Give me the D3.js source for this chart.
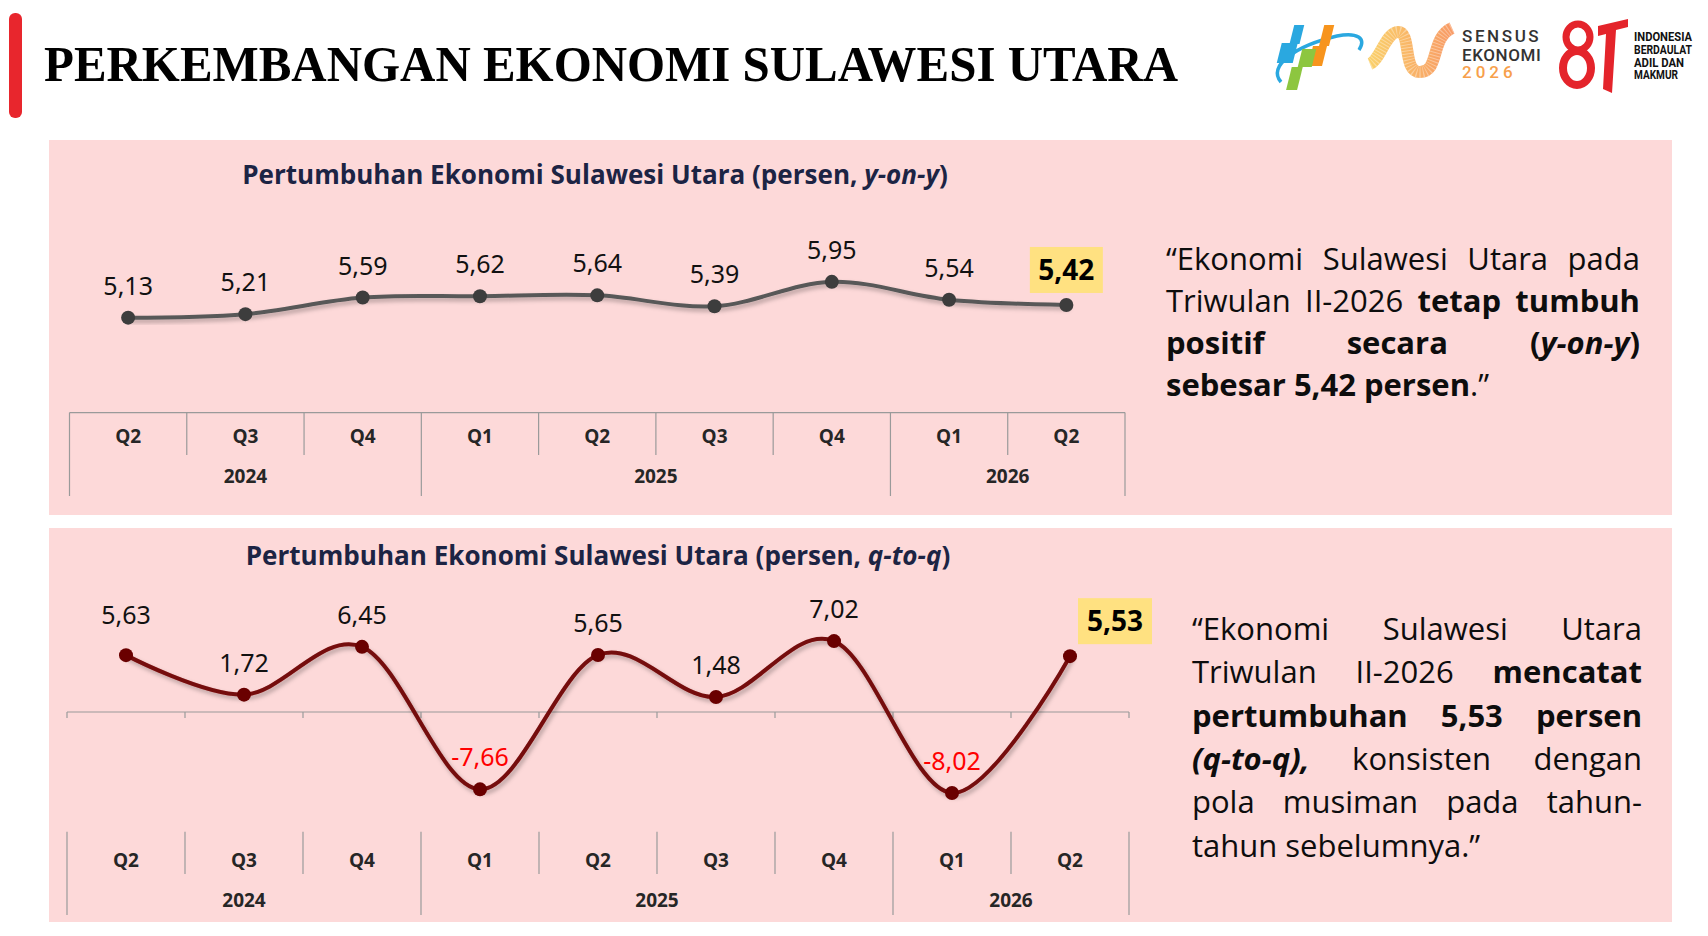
<!DOCTYPE html>
<html lang="id">
<head>
<meta charset="utf-8">
<title>Perkembangan Ekonomi Sulawesi Utara</title>
<script src="https://cdn.jsdelivr.net/npm/d3@7"></script>
<style>
  html, body { margin: 0; padding: 0; background: #fff; }
  svg { display: block; }
  .panel { fill: #fdd9d9; }
  .chart-title { font-family: "Open Sans", "Noto Sans", sans-serif; font-weight: 700; font-size: 23px; fill: #1c2444; }
  .value { font-family: "Noto Sans", Roboto, sans-serif; font-size: 25px; fill: #111; }
  .value.neg { fill: #ff0000; }
  .value.hl { font-weight: 700; font-size: 28px; fill: #000; }
  .cat text { font-family: "Open Sans", "Noto Sans", sans-serif; font-weight: 700; font-size: 19px; fill: #262626; }
  .grid-line { stroke: #9a9a9a; stroke-width: 1.2; }
  .note { font-family: "Open Sans", "Noto Sans", sans-serif; font-size: 31px; fill: #0d0d0d; }
</style>
</head>
<body>
<svg id="page" width="1708" height="936"></svg>
<script>
(function () {
  "use strict";

  // ---- data ----
  const quarterLabels = ["Q2", "Q3", "Q4", "Q1", "Q2", "Q3", "Q4", "Q1", "Q2"];
  const yearLabels = ["2024", "2025", "2026"];
  const yearSpans = [3, 4, 2];
  const yoyValues = [5.13, 5.21, 5.59, 5.62, 5.64, 5.39, 5.95, 5.54, 5.42];
  const qtqValues = [5.63, 1.72, 6.45, -7.66, 5.65, 1.48, 7.02, -8.02, 5.53];
  const yoyDomain = [3, 7];
  const qtqDomain = [-10, 10];

  const topNote = [
    [["", "“Ekonomi Sulawesi Utara pada"]],
    [["", "Triwulan II-2026 "], ["b", "tetap tumbuh"]],
    [["b", "positif secara ("], ["bi", "y-on-y"], ["b", ")"]],
    [["b", "sebesar 5,42 persen"], ["", ".”"]]
  ];
  const bottomNote = [
    [["", "“Ekonomi Sulawesi Utara"]],
    [["", "Triwulan II-2026 "], ["b", "mencatat"]],
    [["b", "pertumbuhan 5,53 persen"]],
    [["bi", "(q-to-q),"], ["", " konsisten dengan"]],
    [["", "pola musiman pada tahun-"]],
    [["", "tahun sebelumnya.”"]]
  ];

  const keys = quarterLabels.map((q, i) => i + "-" + q);
  const idLocale = d3.formatLocale({ decimal: ",", thousands: ".", grouping: [3], currency: ["Rp", ""], minus: "-" });
  const fmt = idLocale.format(".2f");

  const svg = d3.select("#page");
  const defs = svg.append("defs");
  const shadow = defs.append("filter").attr("id", "shadow")
    .attr("x", "-5%").attr("y", "-20%").attr("width", "110%").attr("height", "140%");
  shadow.append("feDropShadow")
    .attr("dx", 2).attr("dy", 3).attr("stdDeviation", 2)
    .attr("flood-color", "#000").attr("flood-opacity", 0.28);

  // ---- header ----
  svg.append("rect")
    .attr("x", 9).attr("y", 13).attr("width", 13).attr("height", 105)
    .attr("rx", 6).attr("fill", "#e8262d");

  svg.append("text")
    .attr("x", 44).attr("y", 81)
    .attr("textLength", 1134).attr("lengthAdjust", "spacingAndGlyphs")
    .style("font-family", "'Liberation Serif', 'Times New Roman', serif")
    .style("font-weight", 700).style("font-size", "50px").style("fill", "#000")
    .text("PERKEMBANGAN EKONOMI SULAWESI UTARA");

  drawLogos();

  // ---- panels ----
  svg.append("rect").attr("class", "panel").attr("x", 49).attr("y", 140).attr("width", 1623).attr("height", 375);
  svg.append("rect").attr("class", "panel").attr("x", 49).attr("y", 528).attr("width", 1623).attr("height", 394);

  // ---- top chart (y-on-y) ----
  const xTop = d3.scaleBand().domain(keys).range([69.5, 1125]);
  const yTop = d3.scaleLinear().domain(yoyDomain).range([410.6, 236]);

  chartTitle(595, 184, "y-on-y", 706);
  categoryAxis(xTop, 412.6, { topLine: true, shortEnd: 455, fullEnd: 496, qY: 436, yY: 476.5 });
  drawSeries({
    values: yoyValues, x: xTop, y: yTop,
    line: "#595959", marker: "#3d3d3d",
    labelOffset: [0, -32], hlOffset: [0, -35], hlSize: [73, 46],
    labelDy: {}
  });

  // ---- bottom chart (q-to-q) ----
  const xBot = d3.scaleBand().domain(keys).range([67, 1129]);
  const yBot = d3.scaleLinear().domain(qtqDomain).range([813, 611]);

  chartTitle(598, 565, "q-to-q", 705);
  const zeroY = yBot(0);
  svg.append("line").attr("class", "grid-line")
    .attr("x1", xBot.range()[0]).attr("x2", xBot.range()[1])
    .attr("y1", zeroY).attr("y2", zeroY);
  svg.append("g").selectAll("line")
    .data(d3.range(keys.length + 1))
    .join("line").attr("class", "grid-line")
    .attr("x1", i => xBot.range()[0] + i * xBot.step())
    .attr("x2", i => xBot.range()[0] + i * xBot.step())
    .attr("y1", zeroY).attr("y2", zeroY + 6);
  categoryAxis(xBot, 831.7, { topLine: false, shortEnd: 874, fullEnd: 915, qY: 860, yY: 900 });
  drawSeries({
    values: qtqValues, x: xBot, y: yBot,
    line: "#750909", marker: "#6a0000",
    labelOffset: [0, -32], hlOffset: [45, -35], hlSize: [74, 46],
    labelDy: { 0: -8 }
  });

  // ---- notes ----
  paragraph(topNote, 1166, 1640, 270, 42);
  paragraph(bottomNote, 1192, 1642, 640, 43.3);

  function chartTitle(cx, y, italicPart, width) {
    const t = svg.append("text").attr("class", "chart-title")
      .attr("x", cx).attr("y", y).attr("text-anchor", "middle");
    t.append("tspan").text("Pertumbuhan Ekonomi Sulawesi Utara (persen, ");
    t.append("tspan").style("font-style", "italic").text(italicPart);
    t.append("tspan").text(")");
    const w = t.node().getComputedTextLength();
    if (Math.abs(w - width) > 4) {
      t.style("font-size", (23 * width / w).toFixed(2) + "px");
    }
  }

  function categoryAxis(x, top, o) {
    const g = svg.append("g").attr("class", "cat");
    const x0 = x.range()[0];
    const step = x.step();
    const boundaries = new Set([0]);
    let acc = 0;
    yearSpans.forEach(n => { acc += n; boundaries.add(acc); });

    if (o.topLine) {
      g.append("line").attr("class", "grid-line")
        .attr("x1", x0).attr("x2", x.range()[1]).attr("y1", top).attr("y2", top);
    }
    g.selectAll("line.div")
      .data(d3.range(keys.length + 1))
      .join("line").attr("class", "grid-line div")
      .attr("x1", i => x0 + i * step).attr("x2", i => x0 + i * step)
      .attr("y1", top)
      .attr("y2", i => boundaries.has(i) ? o.fullEnd : o.shortEnd);

    const axis = d3.axisBottom(x).tickSize(0).tickFormat(k => k.split("-")[1]);
    const ag = g.append("g").attr("transform", `translate(0,${o.qY})`).call(axis);
    ag.select(".domain").remove();
    ag.selectAll("text").attr("y", 0).attr("dy", "0.35em");
    ag.attr("font-family", null).attr("font-size", null);

    let start = 0;
    yearLabels.forEach((yl, i) => {
      const n = yearSpans[i];
      const cx = x0 + (start + n / 2) * step;
      g.append("text").attr("x", cx).attr("y", o.yY).attr("dy", "0.35em")
        .attr("text-anchor", "middle").text(yl);
      start += n;
    });
  }

  function drawSeries(s) {
    const pts = s.values.map((v, i) => ({ v, i, px: s.x(keys[i]) + s.x.bandwidth() / 2, py: s.y(v) }));
    const line = d3.line().x(d => d.px).y(d => d.py).curve(d3.curveCardinal.tension(0));
    const g = svg.append("g");

    g.append("path").datum(pts)
      .attr("d", line)
      .attr("fill", "none")
      .attr("stroke", s.line)
      .attr("stroke-width", 4)
      .attr("stroke-linecap", "round")
      .attr("filter", "url(#shadow)");

    g.selectAll("circle").data(pts).join("circle")
      .attr("cx", d => d.px).attr("cy", d => d.py).attr("r", 7)
      .attr("fill", s.marker);

    const last = pts.length - 1;
    g.selectAll("text.value").data(pts.filter(d => d.i !== last)).join("text")
      .attr("class", d => "value" + (d.v < 0 ? " neg" : ""))
      .attr("x", d => d.px + s.labelOffset[0])
      .attr("y", d => d.py + s.labelOffset[1] + (s.labelDy[d.i] || 0))
      .attr("dy", "0.36em")
      .attr("text-anchor", "middle")
      .text(d => fmt(d.v));

    const h = pts[last];
    const cx = h.px + s.hlOffset[0];
    const cy = h.py + s.hlOffset[1];
    g.append("rect")
      .attr("x", cx - s.hlSize[0] / 2).attr("y", cy - s.hlSize[1] / 2)
      .attr("width", s.hlSize[0]).attr("height", s.hlSize[1])
      .attr("fill", "#ffe181");
    g.append("text").attr("class", "value hl")
      .attr("x", cx).attr("y", cy).attr("dy", "0.36em")
      .attr("text-anchor", "middle").text(fmt(h.v));
  }

  function toWords(line) {
    const words = [[]];
    line.forEach(([st, txt]) => {
      txt.split(" ").forEach((part, i) => {
        if (i > 0) words.push([]);
        if (part) words[words.length - 1].push([st, part]);
      });
    });
    return words.filter(w => w.length);
  }

  function paragraph(lines, x0, x1, y0, lh) {
    const g = svg.append("g");
    lines.forEach((line, li) => {
      const y = y0 + li * lh;
      const justify = li < lines.length - 1;
      const words = toWords(line).map(word => {
        const t = g.append("text").attr("class", "note").attr("y", y);
        word.forEach(([st, txt]) => {
          t.append("tspan").text(txt)
            .style("font-weight", st.includes("b") ? 700 : 400)
            .style("font-style", st.includes("i") ? "italic" : "normal");
        });
        return { t, w: t.node().getComputedTextLength() };
      });
      const total = d3.sum(words, d => d.w);
      const gap = justify && words.length > 1 ? (x1 - x0 - total) / (words.length - 1) : 8;
      let cx = x0;
      words.forEach(d => { d.t.attr("x", cx); cx += d.w + gap; });
    });
  }

  function drawLogos() {
    const lg = svg.append("g");

    // statistics office mark
    const bps = lg.append("g").attr("transform", "translate(1275,22)");
    bps.append("path")
      .attr("d", "M6,60 C-8,44 20,24 62,14 C82,10 92,16 84,28")
      .attr("fill", "none").attr("stroke", "#2aa8e0").attr("stroke-width", 3.5);
    const blocks = bps.append("g").attr("transform", "skewX(-14)");
    [
      ["#2aa8e0", 20, 3, 10, 19], ["#2aa8e0", 12, 21, 16, 20],
      ["#f7941d", 50, 3, 10, 21], ["#f7941d", 44, 24, 14, 20],
      ["#8dc63f", 34, 27, 14, 18], ["#8dc63f", 28, 45, 11, 23]
    ].forEach(([c, x, y, w, h]) => {
      blocks.append("rect").attr("x", x).attr("y", y).attr("width", w).attr("height", h).attr("fill", c);
    });

    // census ribbon
    const grad = defs.append("linearGradient").attr("id", "ribbon").attr("x1", 0).attr("x2", 1);
    grad.append("stop").attr("offset", 0).attr("stop-color", "#f9c74f");
    grad.append("stop").attr("offset", 1).attr("stop-color", "#f7894a");
    const ribbon = "M1370,64 C1380,60 1386,32 1398,32 C1412,32 1402,72 1420,72 C1440,72 1430,38 1452,28";
    lg.append("path").attr("d", ribbon)
      .attr("fill", "none").attr("stroke", "url(#ribbon)").attr("stroke-width", 12).attr("opacity", 0.85);
    lg.append("path").attr("d", ribbon)
      .attr("fill", "none").attr("stroke", "#fff").attr("stroke-width", 12)
      .attr("stroke-dasharray", "1 2").attr("opacity", 0.35);
    [["SENSUS", 42, "#333", 2.6], ["EKONOMI", 61, "#333", 0.6], ["2026", 78, "#f7a04b", 4]]
      .forEach(([t, y, c, ls]) => {
        lg.append("text").attr("x", 1462).attr("y", y)
          .style("font-family", "Roboto, sans-serif").style("font-weight", 500)
          .style("font-size", "17px").style("letter-spacing", ls + "px").attr("fill", c).text(t);
      });

    // 81 mark
    const red = "#e4242b";
    lg.append("ellipse").attr("cx", 1578).attr("cy", 37).attr("rx", 12).attr("ry", 13)
      .attr("fill", "none").attr("stroke", red).attr("stroke-width", 7);
    lg.append("ellipse").attr("cx", 1577).attr("cy", 68).attr("rx", 14).attr("ry", 17)
      .attr("fill", "none").attr("stroke", red).attr("stroke-width", 8);
    lg.append("polygon").attr("points", "1598,26 1628,19 1628,27 1616,30 1612,93 1603,89 1606,34 1598,36")
      .attr("fill", red);
    [["INDONESIA", 41, 58], ["BERDAULAT", 54, 58], ["ADIL DAN", 67, 50], ["MAKMUR", 79, 44]]
      .forEach(([t, y, w]) => {
        lg.append("text").attr("x", 1634).attr("y", y)
          .attr("textLength", w).attr("lengthAdjust", "spacingAndGlyphs")
          .style("font-family", "Roboto, sans-serif").style("font-weight", 700)
          .style("font-size", "12px").attr("fill", "#111").text(t);
      });
  }
})();
</script>
</body>
</html>
